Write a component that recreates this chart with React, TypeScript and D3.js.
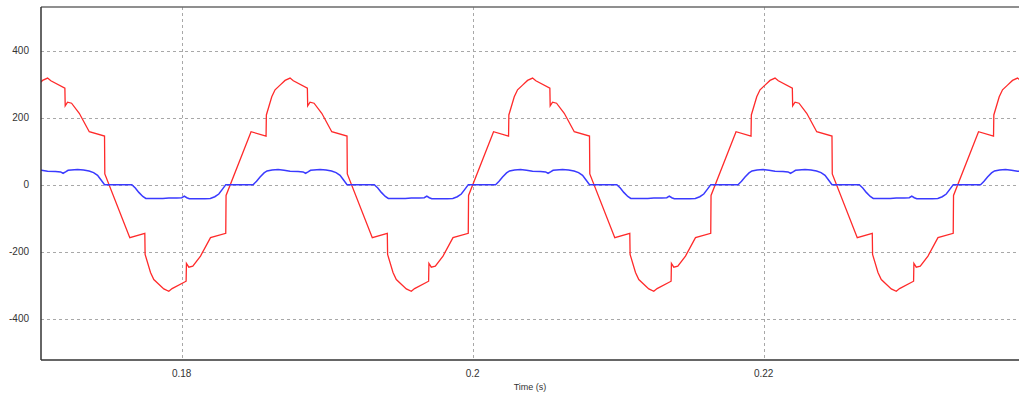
import React from "react";
import * as d3 from "d3";

// Time (s) and value pairs
const redSeries: [number, number][] = [
  [0.169524, 262], [0.169751, 283], [0.170094, 297], [0.170438, 311], [0.170782, 318], [0.171008, 310],
  [0.171971, 288], [0.171993, 235], [0.172156, 246], [0.172431, 243], [0.17296, 213], [0.173648, 158], [0.174696, 145],
  [0.174716, 32], [0.176434, -158], [0.177465, -145], [0.177486, -208], [0.177857, -262], [0.178084, -283], [0.178427, -297],
  [0.178771, -311], [0.179115, -318], [0.179341, -310], [0.180304, -288], [0.180326, -235], [0.180489, -246], [0.180764, -243],
  [0.181293, -213], [0.181981, -158], [0.183029, -145],
  [0.18305, -32], [0.184768, 158], [0.185799, 145], [0.18582, 208], [0.186191, 262], [0.186418, 283], [0.186761, 297],
  [0.187105, 311], [0.187449, 318], [0.187675, 310], [0.188638, 288], [0.18866, 235], [0.188823, 246], [0.189098, 243],
  [0.189627, 213], [0.190315, 158], [0.191363, 145],
  [0.191383, 32], [0.193101, -158], [0.194132, -145], [0.194153, -208], [0.194524, -262], [0.194751, -283], [0.195094, -297],
  [0.195438, -311], [0.195782, -318], [0.196008, -310], [0.196971, -288], [0.196993, -235], [0.197156, -246], [0.197431, -243],
  [0.19796, -213], [0.198648, -158], [0.199696, -145],
  [0.199717, -32], [0.201435, 158], [0.202466, 145], [0.202487, 208], [0.202858, 262], [0.203085, 283], [0.203428, 297],
  [0.203772, 311], [0.204116, 318], [0.204342, 310], [0.205305, 288], [0.205327, 235], [0.20549, 246], [0.205765, 243],
  [0.206294, 213], [0.206982, 158], [0.20803, 145],
  [0.20805, 32], [0.209768, -158], [0.210799, -145], [0.21082, -208], [0.211191, -262], [0.211418, -283], [0.211761, -297],
  [0.212105, -311], [0.212449, -318], [0.212675, -310], [0.213638, -288], [0.21366, -235], [0.213823, -246], [0.214098, -243],
  [0.214627, -213], [0.215315, -158], [0.216363, -145],
  [0.216383, -32], [0.218101, 158], [0.219132, 145], [0.219153, 208], [0.219524, 262], [0.219751, 283], [0.220094, 297],
  [0.220438, 311], [0.220782, 318], [0.221008, 310], [0.221971, 288], [0.221993, 235], [0.222156, 246], [0.222431, 243],
  [0.22296, 213], [0.223648, 158], [0.224696, 145],
  [0.224716, 32], [0.226434, -158], [0.227465, -145], [0.227486, -208], [0.227857, -262], [0.228084, -283], [0.228427, -297],
  [0.228771, -311], [0.229115, -318], [0.229341, -310], [0.230304, -288], [0.230326, -235], [0.230489, -246], [0.230764, -243],
  [0.231293, -213], [0.231981, -158], [0.233029, -145],
  [0.23305, -32], [0.234768, 158], [0.235799, 145], [0.23582, 208], [0.236191, 262], [0.236418, 283], [0.236761, 297],
  [0.237105, 311], [0.237449, 318], [0.237675, 310],
];

const blueSeries: [number, number][] = [
  [0.169201, 41], [0.169545, 44], [0.169957, 45], [0.170369, 43], [0.170782, 40], [0.171331, 39], [0.171675, 38],
  [0.171847, 34], [0.172019, 38], [0.172191, 43], [0.172843, 45], [0.173256, 44], [0.173634, 41], [0.173943, 36],
  [0.174218, 28], [0.174459, 14], [0.174699, 0],
  [0.176572, 0], [0.176812, -10], [0.177053, -23], [0.177328, -35], [0.177534, -41], [0.177878, -41], [0.17829, -41],
  [0.178702, -41], [0.179115, -40], [0.179664, -40], [0.180008, -39], [0.18018, -34], [0.180352, -39], [0.180524, -42],
  [0.181176, -42], [0.181589, -42], [0.181967, -41], [0.182276, -36], [0.182551, -28], [0.182792, -14], [0.183032, 0],
  [0.184906, 0], [0.185146, 10], [0.185387, 23], [0.185662, 35], [0.185868, 41], [0.186212, 44], [0.186624, 45],
  [0.187036, 43], [0.187449, 40], [0.187998, 39], [0.188342, 38], [0.188514, 34], [0.188686, 38], [0.188858, 43],
  [0.18951, 45], [0.189923, 44], [0.190301, 41], [0.19061, 36], [0.190885, 28], [0.191126, 14], [0.191366, 0],
  [0.193239, 0], [0.193479, -10], [0.19372, -23], [0.193995, -35], [0.194201, -41], [0.194545, -41], [0.194957, -41],
  [0.195369, -41], [0.195782, -40], [0.196331, -40], [0.196675, -39], [0.196847, -34], [0.197019, -39], [0.197191, -42],
  [0.197843, -42], [0.198256, -42], [0.198634, -41], [0.198943, -36], [0.199218, -28], [0.199459, -14], [0.199699, 0],
  [0.201573, 0], [0.201813, 10], [0.202054, 23], [0.202329, 35], [0.202535, 41], [0.202879, 44], [0.203291, 45],
  [0.203703, 43], [0.204116, 40], [0.204665, 39], [0.205009, 38], [0.205181, 34], [0.205353, 38], [0.205525, 43],
  [0.206177, 45], [0.20659, 44], [0.206968, 41], [0.207277, 36], [0.207552, 28], [0.207793, 14], [0.208033, 0],
  [0.209906, 0], [0.210146, -10], [0.210387, -23], [0.210662, -35], [0.210868, -41], [0.211212, -41], [0.211624, -41],
  [0.212036, -41], [0.212449, -40], [0.212998, -40], [0.213342, -39], [0.213514, -34], [0.213686, -39], [0.213858, -42],
  [0.21451, -42], [0.214923, -42], [0.215301, -41], [0.21561, -36], [0.215885, -28], [0.216126, -14], [0.216366, 0],
  [0.218239, 0], [0.218479, 10], [0.21872, 23], [0.218995, 35], [0.219201, 41], [0.219545, 44], [0.219957, 45],
  [0.220369, 43], [0.220782, 40], [0.221331, 39], [0.221675, 38], [0.221847, 34], [0.222019, 38], [0.222191, 43],
  [0.222843, 45], [0.223256, 44], [0.223634, 41], [0.223943, 36], [0.224218, 28], [0.224459, 14], [0.224699, 0],
  [0.226572, 0], [0.226812, -10], [0.227053, -23], [0.227328, -35], [0.227534, -41], [0.227878, -41], [0.22829, -41],
  [0.228702, -41], [0.229115, -40], [0.229664, -40], [0.230008, -39], [0.23018, -34], [0.230352, -39], [0.230524, -42],
  [0.231176, -42], [0.231589, -42], [0.231967, -41], [0.232276, -36], [0.232551, -28], [0.232792, -14], [0.233032, 0],
  [0.234906, 0], [0.235146, 10], [0.235387, 23], [0.235662, 35], [0.235868, 41], [0.236212, 44], [0.236624, 45],
  [0.237036, 43], [0.237449, 40], [0.237998, 39],
];

const xTicks = [0.18, 0.2, 0.22];
const xTickLabels = ["0.18", "0.2", "0.22"];
const yTicks = [-400, -200, 0, 200, 400];
const yTickLabels = ["-400", "-200", "0", "200", "400"];
const xDomain: [number, number] = [0.17033, 0.23755];
const yDomain: [number, number] = [-523, 530];
const xTitle = "Time (s)";

export default function App() {
  const W = 1019, H = 394;
  const left = 41, right = 1019, top = 7, bottom = 360;
  const x = d3.scaleLinear().domain(xDomain).range([left, right]);
  const y = d3.scaleLinear().domain(yDomain).range([bottom, top]);
  const line = d3.line<[number, number]>().x(d => x(d[0])).y(d => y(d[1]));
  const font = "'Liberation Sans', Arial, sans-serif";
  return (
    <svg width={W} height={H} style={{ position: "absolute", left: 0, top: 0, background: "#fff" }}>
      <defs>
        <clipPath id="plot">
          <rect x={left} y={top} width={right - left} height={bottom - top} />
        </clipPath>
      </defs>
      <rect x={0} y={0} width={W} height={H} fill="#fff" />
      {yTicks.map(v => (
        <line key={"gy" + v} x1={left} x2={right} y1={Math.round(y(v)) + 0.5} y2={Math.round(y(v)) + 0.5}
          stroke="#a8a8a8" strokeWidth={1} strokeDasharray="3,3" />
      ))}
      {xTicks.map(v => (
        <line key={"gx" + v} x1={Math.round(x(v)) + 0.5} x2={Math.round(x(v)) + 0.5} y1={top} y2={bottom}
          stroke="#a8a8a8" strokeWidth={1} strokeDasharray="3,3" />
      ))}
      <g clipPath="url(#plot)">
        <path d={line(redSeries) || ""} fill="none" stroke="#ff2a2a" strokeWidth={1.3} />
        <path d={line(blueSeries) || ""} fill="none" stroke="#3a3aff" strokeWidth={1.5} />
      </g>
      <line x1={left} x2={right} y1={top} y2={top} stroke="#6a6a6a" strokeWidth={1.5} />
      <line x1={left} x2={right} y1={bottom} y2={bottom} stroke="#333" strokeWidth={1.5} />
      <line x1={left} x2={left} y1={top} y2={bottom} stroke="#333" strokeWidth={1.5} />
      {yTicks.map((v, i) => (
        <text key={"ty" + v} x={29} y={y(v)} dy="0.35em" textAnchor="end" fontFamily={font} fontSize={10} fill="#333">
          {yTickLabels[i]}
        </text>
      ))}
      {xTicks.map((v, i) => (
        <text key={"tx" + v} x={x(v)} y={377} textAnchor="middle" fontFamily={font} fontSize={10} fill="#333">
          {xTickLabels[i]}
        </text>
      ))}
      <text x={(left + right) / 2} y={390} textAnchor="middle" fontFamily={font} fontSize={9} fill="#333">
        {xTitle}
      </text>
    </svg>
  );
}
